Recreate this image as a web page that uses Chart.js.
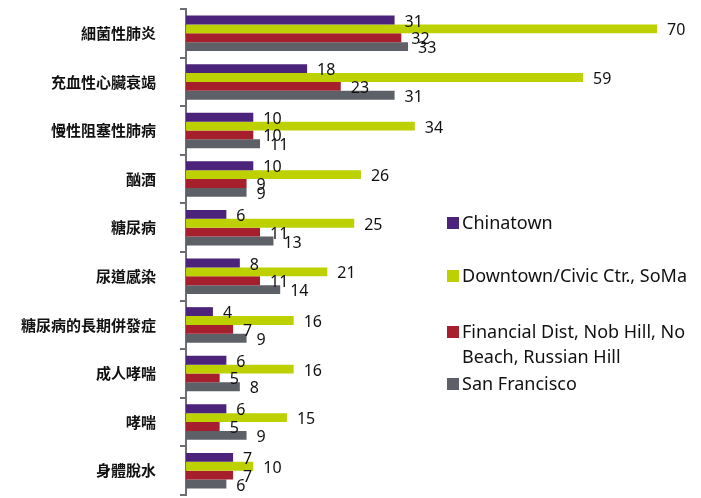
<!DOCTYPE html>
<html>
<head>
<meta charset="utf-8">
<script src="https://cdn.jsdelivr.net/npm/chart.js@4/dist/chart.umd.min.js"></script>
<style>
  html, body { margin: 0; padding: 0; background: #fff; }
  #wrap { position: relative; width: 701px; height: 498px; }
  #legend { position: absolute; left: 447px; top: 0; font-family: "Noto Sans", sans-serif; font-size: 18px; color: #111; }
  .item { position: absolute; left: 0; width: 238px; line-height: 25px; padding-left: 15px; }
  .item span { position: absolute; left: 0; top: 7px; width: 12px; height: 12px; }
</style>
</head>
<body>
<div id="wrap">
  <canvas id="c" width="701" height="498"></canvas>
  <div id="legend"></div>
</div>
<script>
// categories, top to bottom
const categories = ['細菌性肺炎', '充血性心臟衰竭', '慢性阻塞性肺病', '酗酒', '糖尿病',
  '尿道感染', '糖尿病的長期併發症', '成人哮喘', '哮喘', '身體脫水'];

const seriesNames = ['Chinatown', 'Downtown/Civic Ctr., SoMa',
  'Financial Dist, Nob Hill, No Beach, Russian Hill', 'San Francisco'];
const seriesColors = ['#4b237a', '#bdd100', '#a51f2d', '#5e6068'];

const chinatown = [31, 18, 10, 10, 6, 8, 4, 6, 6, 7];
const downtown = [70, 59, 34, 26, 25, 21, 16, 16, 15, 10];
const financial = [32, 23, 10, 9, 11, 11, 7, 5, 5, 7];
const sanFrancisco = [33, 31, 11, 9, 13, 14, 9, 8, 9, 6];

const legendTops = [210, 263, 319, 371];

const seriesData = [chinatown, downtown, financial, sanFrancisco];

// value labels after each bar
const barLabels = {
  id: 'barLabels',
  afterDatasetsDraw(chart) {
    const ctx = chart.ctx;
    ctx.save();
    ctx.font = '16px "Noto Sans", sans-serif';
    ctx.fillStyle = '#111';
    ctx.textAlign = 'left';
    ctx.textBaseline = 'middle';
    chart.data.datasets.forEach((ds, i) => {
      chart.getDatasetMeta(i).data.forEach((bar, j) => {
        ctx.fillText(String(ds.data[j]), bar.x + 10, bar.y + 2);
      });
    });
    ctx.restore();
  }
};

new Chart(document.getElementById('c'), {
  type: 'bar',
  data: {
    labels: categories,
    datasets: seriesNames.map((name, i) => ({
      label: name,
      data: seriesData[i],
      backgroundColor: seriesColors[i],
      barPercentage: 1,
      categoryPercentage: 0.73
    }))
  },
  options: {
    indexAxis: 'y',
    responsive: false,
    animation: false,
    layout: { padding: { top: 9, bottom: 3, right: 44, left: 0 } },
    plugins: { legend: { display: false }, tooltip: { enabled: false } },
    scales: {
      x: { display: false, min: 0, max: 70 },
      y: {
        afterFit(scale) {
          scale.width = 186;
          scale.paddingTop = 0;
          scale.paddingBottom = 0;
        },
        grid: { drawOnChartArea: false, tickLength: 6, color: '#6d6e72', lineWidth: 2, offset: true },
        border: { color: '#6d6e72', width: 2 },
        ticks: {
          padding: 24,
          color: '#111',
          font: { family: '"Noto Sans CJK TC", sans-serif', size: 15, weight: 'bold' }
        }
      }
    }
  },
  plugins: [barLabels]
});

const legend = document.getElementById('legend');
seriesNames.forEach((name, i) => {
  const div = document.createElement('div');
  div.className = 'item';
  div.style.top = legendTops[i] + 'px';
  const box = document.createElement('span');
  box.style.background = seriesColors[i];
  div.appendChild(box);
  div.appendChild(document.createTextNode(name));
  legend.appendChild(div);
});
</script>
</body>
</html>
